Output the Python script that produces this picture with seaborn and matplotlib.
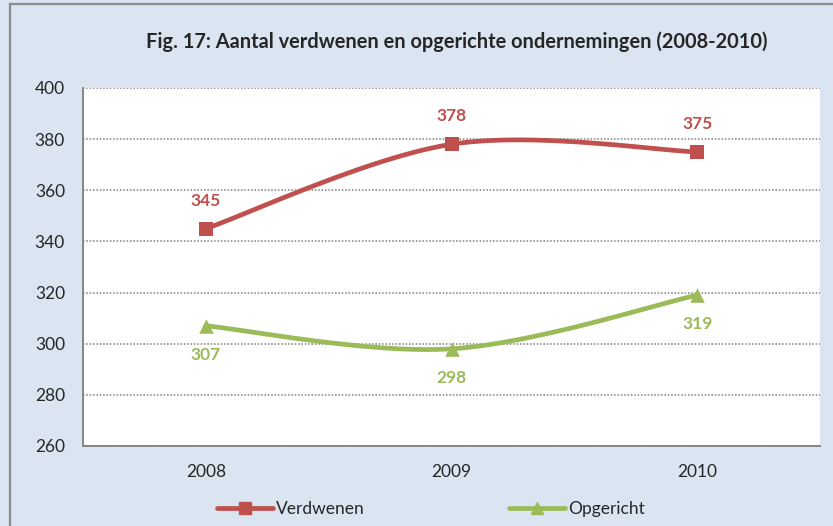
import seaborn as sns
import matplotlib.pyplot as plt
import matplotlib.patches as mpatches
from matplotlib.lines import Line2D
import pandas as pd
import numpy as np

# data
years = ["2008", "2009", "2010"]
verdwenen = [345, 378, 375]
opgericht = [307, 298, 319]
y_ticks = [260, 280, 300, 320, 340, 360, 380, 400]

red = "#C0504D"
green = "#9BBB59"
bg = "#DBE5F1"

sns.set_style("white")
plt.rcParams["font.family"] = ["Lato", "DejaVu Sans"]


def smooth(xs, ys, n=40):
    # Catmull-Rom style smoothing, similar to Excel's smoothed lines
    px = np.array(xs, dtype=float)
    py = np.array(ys, dtype=float)
    px = np.concatenate([[px[0]], px, [px[-1]]])
    py = np.concatenate([[py[0]], py, [py[-1]]])
    outx, outy = [], []
    for i in range(1, len(px) - 2):
        t = np.linspace(0, 1, n)
        for arr, out in ((px, outx), (py, outy)):
            p0, p1, p2, p3 = arr[i - 1], arr[i], arr[i + 1], arr[i + 2]
            m1 = (p2 - p0) / 2
            m2 = (p3 - p1) / 2
            h00 = 2 * t**3 - 3 * t**2 + 1
            h10 = t**3 - 2 * t**2 + t
            h01 = -2 * t**3 + 3 * t**2
            h11 = t**3 - t**2
            out.extend(h00 * p1 + h10 * m1 + h01 * p2 + h11 * m2)
    return np.array(outx), np.array(outy)


pos = np.arange(len(years))
df = pd.DataFrame({"x": pos, "Verdwenen": verdwenen, "Opgericht": opgericht})

fig = plt.figure(figsize=(8.33, 5.26), dpi=100)
fig.patch.set_facecolor(bg)
ax = fig.add_axes([83 / 833, 1 - 446 / 526, (820 - 83) / 833, (446 - 88) / 526])
ax.set_facecolor("white")

# outer border (left and top visible)
fig.patches.append(mpatches.Rectangle((10 / 833, -0.1), 1.2, 1 - 4 / 526 + 0.1,
                                      transform=fig.transFigure, fill=False,
                                      edgecolor="#8C8C8C", lw=1.6, zorder=0))

for col, color, marker, offset in (("Verdwenen", red, "s", 20),
                                    ("Opgericht", green, "^", -21)):
    sx, sy = smooth(df["x"], df[col])
    sns.lineplot(x=sx, y=sy, ax=ax, color=color, lw=3.4, sort=False, zorder=3)
    sns.scatterplot(data=df, x="x", y=col, ax=ax, color=color, marker=marker,
                    s=110, edgecolor=color, linewidth=0, zorder=4)
    for xv, yv in zip(df["x"], df[col]):
        ax.annotate(str(yv), (xv, yv), xytext=(0, offset), textcoords="offset points",
                    ha="center", va="center", color=color, fontsize=12.5,
                    fontweight="bold")

ax.set_xlim(-0.5, len(years) - 0.5)
ax.set_ylim(260, 400)
ax.set_yticks(y_ticks)
ax.set_yticklabels([str(v) for v in y_ticks], fontsize=12.5)
ax.set_xticks(pos)
ax.set_xticklabels(years, fontsize=12.5)
ax.tick_params(axis="x", length=0, pad=13)
ax.set_xticks(np.arange(-0.5, len(years)), minor=True)
ax.tick_params(axis="x", which="minor", length=6, color="#868686", width=1.2)
ax.tick_params(axis="y", length=5, color="#868686", width=1.2, pad=8, direction="out")
ax.set_xlabel("")
ax.set_ylabel("")

ax.yaxis.grid(True, linestyle=(0, (1, 1.2)), color="#7F7F7F", lw=1.1)
ax.set_axisbelow(True)
for s in ("top", "right"):
    ax.spines[s].set_visible(False)
for s in ("left", "bottom"):
    ax.spines[s].set_color("#868686")
    ax.spines[s].set_linewidth(1.4)

fig.text(0.548, 1 - 42 / 526, "Fig. 17: Aantal verdwenen en opgerichte ondernemingen (2008-2010)",
         ha="center", va="center", fontsize=14.4, fontweight="bold")

handles = [Line2D([], [], color=red, lw=3.4, marker="s", markersize=9),
           Line2D([], [], color=green, lw=3.4, marker="^", markersize=9)]
fig.legend(handles, ["Verdwenen", "Opgericht"], loc="center", ncol=2,
           bbox_to_anchor=(431 / 833, 1 - 509 / 526), frameon=False, fontsize=12.5,
           handlelength=3.2, handletextpad=0.2, columnspacing=8.3)

fig.savefig("out.png", dpi=100, facecolor=bg)
